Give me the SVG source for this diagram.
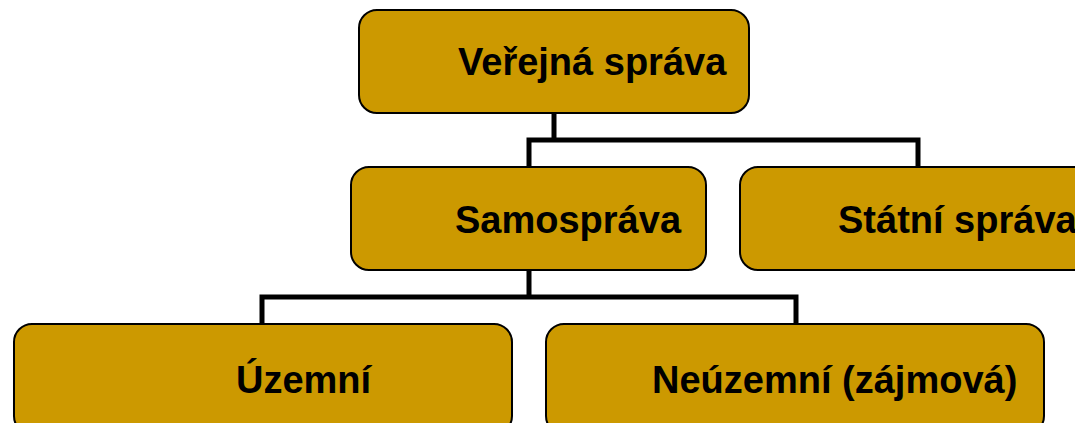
<svg xmlns="http://www.w3.org/2000/svg" width="1075" height="423" viewBox="0 0 1075 423">
<style>
.box{fill:#CC9900;stroke:#000;stroke-width:2}
.lbl{font-family:"Liberation Sans",Arial,sans-serif;font-weight:bold;font-size:38px;fill:#000}
.con{fill:none;stroke:#000;stroke-width:5;stroke-linecap:butt;stroke-linejoin:miter}
</style>
<rect width="1075" height="423" fill="#fff"/>
<g id="connectors">
<path class="con" d="M554 113 V140 M529 167 V140 H918 V167"/>
<path class="con" d="M529 270 V297 M262 324 V297 H796 V324"/>
</g>
<g id="verejna-sprava">
<rect class="box" x="359" y="10" width="390" height="103" rx="18"/>
<text class="lbl" x="458" y="75">Veřejná správa</text>
</g>
<g id="samosprava">
<rect class="box" x="351" y="167" width="355" height="103" rx="18"/>
<text class="lbl" x="455" y="233">Samospráva</text>
</g>
<g id="statni-sprava">
<rect class="box" x="740" y="167" width="360" height="103" rx="18"/>
<text class="lbl" x="838" y="233">Státní správa</text>
</g>
<g id="uzemni">
<rect class="box" x="14" y="324" width="498" height="110" rx="18"/>
<text class="lbl" x="236" y="393">Územní</text>
</g>
<g id="neuzemni">
<rect class="box" x="546" y="324" width="498" height="110" rx="18"/>
<text class="lbl" x="652" y="393">Neúzemní (zájmová)</text>
</g>
</svg>
